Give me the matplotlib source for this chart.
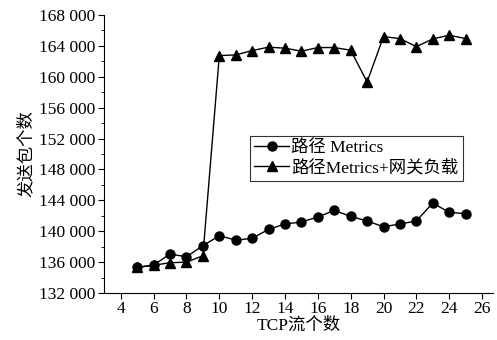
import matplotlib
matplotlib.use('Agg')
import matplotlib.pyplot as plt
from matplotlib.ticker import MultipleLocator, FuncFormatter

# TCP 流个数
flows = [5, 6, 7, 8, 9, 10, 11, 12, 13, 14, 15, 16, 17, 18, 19, 20, 21, 22, 23, 24, 25]

# 路径 Metrics
metrics = [135330, 135630, 137050, 136700, 138130, 139420, 138860, 139080, 140250,
           140940, 141200, 141850, 142700, 141930, 141330, 140590, 140940, 141330,
           143660, 142450, 142280]

# 路径 Metrics + 网关负载
metrics_gw = [135330, 135600, 135930, 136000, 136830, 162740, 162830, 163390, 163830,
              163700, 163310, 163780, 163780, 163440, 159330, 165200, 164940, 163900,
              164900, 165380, 164940]

label_metrics = '路径 Metrics'
label_gw = '路径Metrics+网关负载'

plt.rcParams['font.family'] = ['Liberation Serif', 'Noto Sans CJK SC']

fig = plt.figure(figsize=(4.97, 3.40), dpi=100)
ax = fig.add_axes([0.209, 0.138, 0.783, 0.818])

ax.plot(flows, metrics, '-o', color='black', lw=1, ms=6.5, label=label_metrics)
ax.plot(flows, metrics_gw, '-^', color='black', lw=1, ms=7.5, label=label_gw)

ax.set_xlim(2.97, 26.67)
ax.set_ylim(132000, 168000)
ax.xaxis.set_major_locator(MultipleLocator(2))
ax.yaxis.set_major_locator(MultipleLocator(4000))
ax.yaxis.set_minor_locator(MultipleLocator(2000))
ax.yaxis.set_major_formatter(FuncFormatter(lambda v, p: f'{int(v):,}'.replace(',', ' ')))

for side in ('top', 'right'):
    ax.spines[side].set_visible(False)
ax.tick_params(axis='both', which='major', direction='out', length=4, labelsize=12.5)
ax.tick_params(axis='y', which='minor', direction='out', length=2)
ax.tick_params(axis='y', which='major', pad=2)
ax.tick_params(axis='x', which='major', pad=2)

ax.set_xlabel('TCP流个数', fontsize=12.5, labelpad=0)
ax.set_ylabel('发送包个数', fontsize=12.5, labelpad=3)

leg = ax.legend(loc='upper left', bbox_to_anchor=(0.375, 0.565), fontsize=12.5,
                frameon=True, fancybox=False, edgecolor='black', handlelength=2.0,
                handletextpad=0.15, borderpad=0.25, labelspacing=0.2, borderaxespad=0)
leg.get_frame().set_linewidth(0.8)

fig.savefig('out.png', dpi=100, facecolor='white')
